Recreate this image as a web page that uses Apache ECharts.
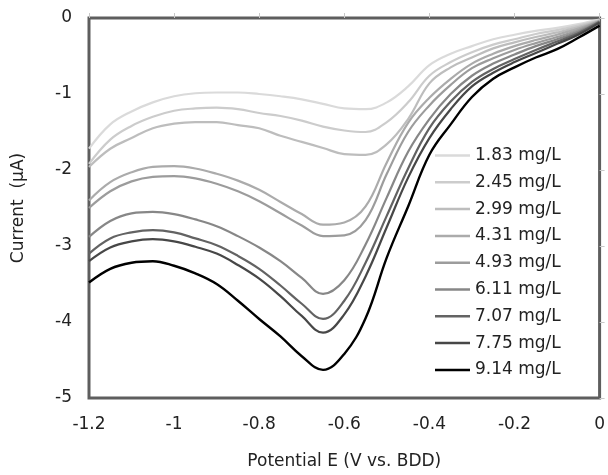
<!DOCTYPE html>
<html>
<head>
<meta charset="utf-8">
<script src="https://cdn.jsdelivr.net/npm/echarts@6/dist/echarts.min.js"></script>
<style>
  html, body { margin: 0; padding: 0; background: #fff; }
  #chart { width: 608px; height: 475px; }
</style>
</head>
<body>
<div id="chart"></div>
<script>
// potential (V vs. BDD)
const potentials = [-1.2, -1.15, -1.1, -1.05, -1.0, -0.95, -0.9, -0.85, -0.8, -0.75, -0.7, -0.65,
  -0.6, -0.55, -0.5, -0.45, -0.4, -0.35, -0.3, -0.25, -0.2, -0.15, -0.1, -0.05, 0]

// current (uA), one array per concentration
const c183 = [-1.72, -1.40, -1.23, -1.11, -1.03, -0.99, -0.98, -0.98, -1.00, -1.03, -1.07, -1.13,
  -1.19, -1.20, -1.11, -0.90, -0.62, -0.47, -0.37, -0.28, -0.22, -0.17, -0.13, -0.08, -0.02]
const c245 = [-1.92, -1.60, -1.42, -1.30, -1.22, -1.19, -1.18, -1.20, -1.25, -1.29, -1.35, -1.43,
  -1.48, -1.50, -1.37, -1.11, -0.76, -0.58, -0.45, -0.35, -0.28, -0.21, -0.16, -0.10, -0.03]
const c299 = [-1.96, -1.72, -1.58, -1.45, -1.39, -1.37, -1.37, -1.41, -1.45, -1.55, -1.63, -1.71,
  -1.79, -1.80, -1.66, -1.33, -0.86, -0.65, -0.52, -0.40, -0.32, -0.25, -0.19, -0.12, -0.03]
const c431 = [-2.40, -2.16, -2.03, -1.96, -1.95, -1.98, -2.05, -2.14, -2.26, -2.42, -2.58, -2.72,
  -2.69, -2.48, -1.90, -1.38, -1.05, -0.80, -0.60, -0.47, -0.37, -0.29, -0.22, -0.14, -0.04]
const c493 = [-2.50, -2.28, -2.15, -2.09, -2.08, -2.11, -2.18, -2.28, -2.41, -2.57, -2.73, -2.87,
  -2.86, -2.66, -2.05, -1.50, -1.15, -0.88, -0.66, -0.53, -0.42, -0.33, -0.25, -0.16, -0.04]
const c611 = [-2.88, -2.67, -2.57, -2.55, -2.58, -2.65, -2.74, -2.87, -3.02, -3.20, -3.42, -3.63,
  -3.45, -2.98, -2.36, -1.76, -1.33, -1.00, -0.76, -0.60, -0.48, -0.37, -0.28, -0.18, -0.05]
const c707 = [-3.10, -2.90, -2.82, -2.79, -2.82, -2.90, -2.99, -3.13, -3.30, -3.52, -3.76, -3.96,
  -3.72, -3.22, -2.60, -1.98, -1.45, -1.10, -0.84, -0.67, -0.54, -0.42, -0.31, -0.20, -0.05]
const c775 = [-3.20, -3.02, -2.94, -2.91, -2.94, -3.01, -3.10, -3.25, -3.43, -3.66, -3.92, -4.14,
  -3.90, -3.40, -2.75, -2.10, -1.58, -1.20, -0.90, -0.72, -0.58, -0.46, -0.34, -0.22, -0.06]
const c914 = [-3.48, -3.30, -3.22, -3.20, -3.26, -3.36, -3.50, -3.72, -3.96, -4.19, -4.45, -4.63,
  -4.42, -3.95, -3.15, -2.48, -1.80, -1.40, -1.04, -0.80, -0.65, -0.52, -0.41, -0.26, -0.10]

const names = ['1.83 mg/L', '2.45 mg/L', '2.99 mg/L', '4.31 mg/L', '4.93 mg/L',
  '6.11 mg/L', '7.07 mg/L', '7.75 mg/L', '9.14 mg/L']
const curves = [c183, c245, c299, c431, c493, c611, c707, c775, c914]
const colors = ['#dadada', '#cccccc', '#bdbdbd', '#ababab', '#9c9c9c', '#878787', '#636363', '#474747', '#000000']

const font = 'DejaVu Sans, Verdana, sans-serif'

const chart = echarts.init(document.getElementById('chart'))

chart.setOption({
  animation: false,
  backgroundColor: '#fff',
  grid: {
    left: 89, right: 5, top: 18, bottom: 74,
    show: true, borderColor: '#5e5e5e', borderWidth: 3
  },
  legend: {
    orient: 'vertical',
    left: 435,
    top: 147,
    padding: 0,
    icon: 'rect',
    itemWidth: 35,
    itemHeight: 2.5,
    itemGap: 9.8,
    textStyle: { fontFamily: font, fontSize: 17, color: '#222' },
    data: names
  },
  xAxis: {
    type: 'value',
    min: -1.2,
    max: 0,
    interval: 0.2,
    name: 'Potential E (V vs. BDD)',
    nameLocation: 'middle',
    nameGap: 55,
    nameTextStyle: { fontFamily: font, fontSize: 17, color: '#222' },
    axisLine: { show: false },
    axisTick: { inside: true, length: 5, lineStyle: { color: '#c8c8c8' } },
    splitLine: { show: false },
    axisLabel: {
      fontFamily: font, fontSize: 17, color: '#222', margin: 18,
      formatter: v => String(Math.round(v * 10) / 10)
    }
  },
  yAxis: {
    type: 'value',
    min: -5,
    max: 0,
    interval: 1,
    name: 'Current  (μA)',
    nameLocation: 'middle',
    nameGap: 62,
    nameTextStyle: { fontFamily: font, fontSize: 17, color: '#222' },
    axisLine: { show: false },
    axisTick: { inside: true, length: 5, lineStyle: { color: '#c8c8c8' } },
    splitLine: { show: false },
    axisLabel: { fontFamily: font, fontSize: 17, color: '#222', margin: 17 }
  },
  series: curves.map((vals, i) => ({
    name: names[i],
    type: 'line',
    symbol: 'none',
    smooth: 0.4,
    lineStyle: { color: colors[i], width: i === 8 ? 2.4 : 2.2 },
    itemStyle: { color: colors[i] },
    data: potentials.map((x, j) => [x, vals[j]])
  }))
})
</script>
</body>
</html>
